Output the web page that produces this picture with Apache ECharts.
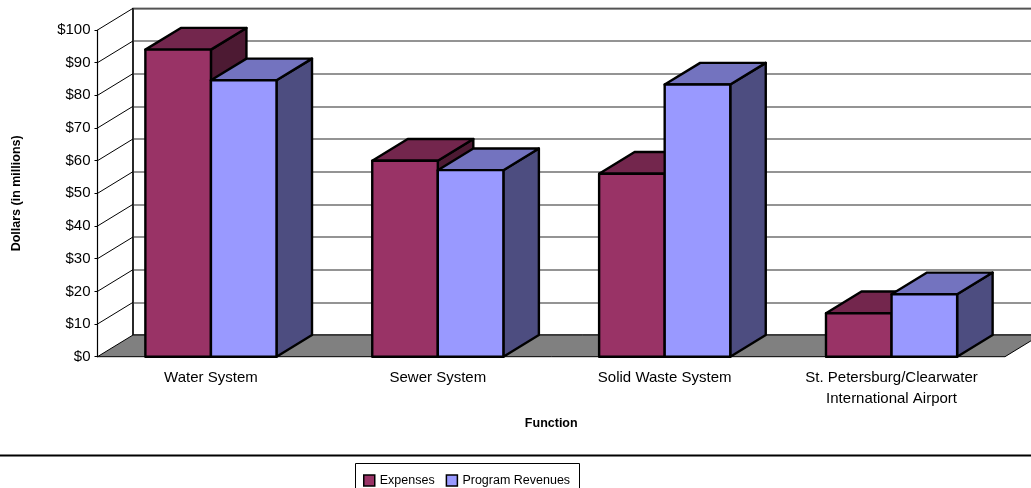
<!DOCTYPE html>
<html>
<head>
<meta charset="utf-8">
<script src="https://cdn.jsdelivr.net/npm/echarts@6/dist/echarts.min.js"></script>
<style>
  html, body { margin: 0; padding: 0; background: #fff; }
  #chart { width: 1031px; height: 488px; }
</style>
</head>
<body>
<div id="chart"></div>
<script>
// Enterprise functions: expenses vs. program revenues (dollars in millions)
const CATEGORIES = [
  'Water System',
  'Sewer System',
  'Solid Waste System',
  'St. Petersburg/Clearwater\nInternational Airport'
];
const EXPENSES = [94, 60, 56, 13.3];
const PROGRAM_REVENUES = [84.6, 57.1, 83.3, 19.1];
const Y_MIN = 0;
const Y_MAX = 100;
const Y_STEP = 10;

// Oblique projection of the chart depth (pixels the back plane is shifted by)
const DX = 35.5;
const DY = -21.7;
const FRONT = { left: 97.5, top: 30, width: 907.5, height: 326.7 };
const BAR_FRACTION = 0.289;
const FONT = '"Liberation Sans", Arial, sans-serif';

const EXP_COLORS = { front: '#993366', top: '#73264d', side: '#4d1a33' };
const REV_COLORS = { front: '#9999ff', top: '#7373bf', side: '#4d4d80' };

function barRenderer(side, colors) {
  return function (params, api) {
    const cat = api.value(0);
    const val = api.value(1);
    const top = api.coord([cat, val]);
    const base = api.coord([cat, Y_MIN]);
    const w = api.size([1, 0])[0] * BAR_FRACTION;
    const x0 = side < 0 ? top[0] - w : top[0];
    const x1 = x0 + w;
    const yT = top[1];
    const yB = base[1];
    const edge = { stroke: '#000', lineWidth: 2.4, lineJoin: 'round' };
    return {
      type: 'group',
      children: [
        { type: 'polygon',
          shape: { points: [[x1, yT], [x1 + DX, yT + DY], [x1 + DX, yB + DY], [x1, yB]] },
          style: Object.assign({ fill: colors.side }, edge) },
        { type: 'polygon',
          shape: { points: [[x0, yT], [x1, yT], [x1 + DX, yT + DY], [x0 + DX, yT + DY]] },
          style: Object.assign({ fill: colors.top }, edge) },
        { type: 'rect',
          shape: { x: x0, y: yT, width: w, height: yB - yT },
          style: Object.assign({ fill: colors.front }, edge) }
      ]
    };
  };
}

// Floor and left side wall, placed from the front axes
function frameRenderer(params, api) {
  const band = api.size([1, 0])[0];
  const first = api.coord([0, Y_MIN]);
  const left = first[0] - band / 2;
  const right = api.coord([CATEGORIES.length - 1, Y_MIN])[0] + band / 2;
  const y0 = first[1];
  const children = [
    { type: 'polygon',
      shape: { points: [[left, y0], [right, y0], [right + DX, y0 + DY], [left + DX, y0 + DY]] },
      style: { fill: '#808080', stroke: '#000', lineWidth: 1 } }
  ];
  for (let v = Y_MIN + Y_STEP; v <= Y_MAX; v += Y_STEP) {
    const p = api.coord([0, v]);
    children.push({
      type: 'line',
      shape: { x1: left, y1: p[1], x2: left + DX, y2: p[1] + DY },
      style: { stroke: '#000', lineWidth: 1 }
    });
  }
  children.push({
    type: 'line',
    shape: { x1: left + DX, y1: api.coord([0, Y_MAX])[1] + DY, x2: left + DX, y2: y0 + DY },
    style: { stroke: '#000', lineWidth: 1.2 }
  });
  return { type: 'group', children: children };
}

const chart = echarts.init(document.getElementById('chart'), null, { renderer: 'canvas' });

chart.setOption({
  animation: false,
  backgroundColor: '#fff',
  textStyle: { fontFamily: FONT },
  grid: [
    Object.assign({ containLabel: false, outerBoundsMode: 'none' }, FRONT),
    {
      left: FRONT.left + DX, top: FRONT.top + DY,
      width: FRONT.width, height: FRONT.height,
      containLabel: false, outerBoundsMode: 'none',
      show: true, backgroundColor: '#fff', borderColor: '#000', borderWidth: 1.2
    }
  ],
  xAxis: [
    {
      type: 'category', gridIndex: 0, data: CATEGORIES,
      axisLine: { show: false }, axisTick: { show: false },
      axisLabel: { color: '#000', fontSize: 15, fontFamily: FONT, margin: 11, lineHeight: 21, interval: 0 },
      name: 'Function', nameLocation: 'middle', nameGap: 60,
      nameTextStyle: { color: '#000', fontSize: 12.5, fontWeight: 'bold', fontFamily: FONT }
    },
    {
      type: 'category', gridIndex: 1, data: CATEGORIES, show: false
    }
  ],
  yAxis: [
    {
      type: 'value', gridIndex: 0, min: Y_MIN, max: Y_MAX, interval: Y_STEP,
      axisLine: { show: true, lineStyle: { color: '#000', width: 1.2 } },
      axisTick: { show: true, length: 3, lineStyle: { color: '#000' } },
      splitLine: { show: false },
      axisLabel: { color: '#000', fontSize: 15, fontFamily: FONT, margin: 7, formatter: v => '$' + v },
      name: 'Dollars (in millions)', nameLocation: 'middle', nameRotate: 90, nameGap: 74,
      nameTextStyle: { color: '#000', fontSize: 12.5, fontWeight: 'bold', fontFamily: FONT }
    },
    {
      type: 'value', gridIndex: 1, min: Y_MIN, max: Y_MAX, interval: Y_STEP,
      axisLine: { show: false }, axisTick: { show: false }, axisLabel: { show: false },
      splitLine: { show: true, lineStyle: { color: '#707070', width: 1.5 } }
    }
  ],
  legend: {
    left: 358, top: 469, itemWidth: 11, itemHeight: 11, itemGap: 11, icon: 'rect',
    textStyle: { color: '#000', fontSize: 12.5, fontFamily: FONT },
    data: [
      { name: 'Expenses', itemStyle: { color: EXP_COLORS.front, borderColor: '#000', borderWidth: 1.5 } },
      { name: 'Program Revenues', itemStyle: { color: REV_COLORS.front, borderColor: '#000', borderWidth: 1.5 } }
    ]
  },
  graphic: [
    { type: 'line', shape: { x1: 0, y1: 455.5, x2: 1031, y2: 455.5 },
      style: { stroke: '#000', lineWidth: 2 }, z: 0 },
    { type: 'rect', shape: { x: 355.5, y: 463.5, width: 224, height: 40 },
      style: { fill: '#fff', stroke: '#000', lineWidth: 1 }, z: 0 }
  ],
  series: [
    {
      type: 'custom', name: 'frame', xAxisIndex: 0, yAxisIndex: 0, z: 1,
      data: [[0, 0]], renderItem: frameRenderer, silent: true
    },
    {
      type: 'custom', name: 'Expenses', xAxisIndex: 0, yAxisIndex: 0, z: 2,
      itemStyle: { color: EXP_COLORS.front },
      encode: { x: 0, y: 1 },
      data: EXPENSES.map((v, i) => [i, v]),
      renderItem: barRenderer(-1, EXP_COLORS)
    },
    {
      type: 'custom', name: 'Program Revenues', xAxisIndex: 0, yAxisIndex: 0, z: 3,
      itemStyle: { color: REV_COLORS.front },
      encode: { x: 0, y: 1 },
      data: PROGRAM_REVENUES.map((v, i) => [i, v]),
      renderItem: barRenderer(1, REV_COLORS)
    }
  ]
});
</script>
</body>
</html>
